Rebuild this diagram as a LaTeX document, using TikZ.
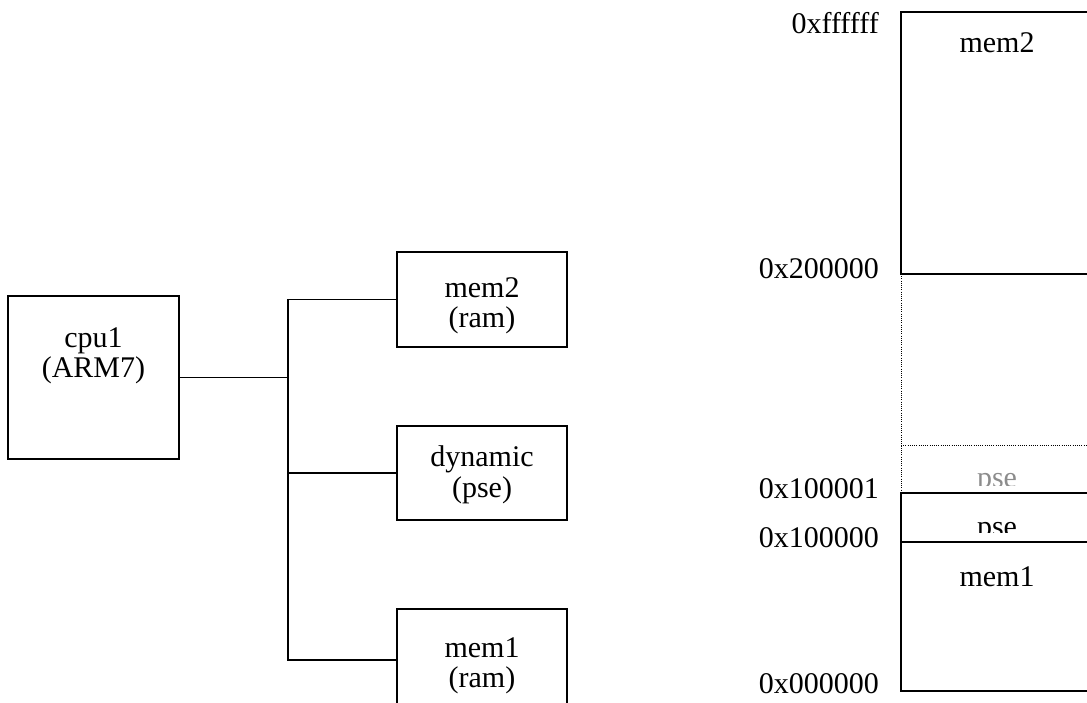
\documentclass[tikz,border=0pt]{standalone}
\usepackage{fontspec}
\setmainfont{Liberation Serif}
\begin{document}
\begin{tikzpicture}[x=1pt,y=-1pt,
  box/.style={draw, line width=1.9pt, rectangle, inner sep=0pt},
  txt/.style={inner sep=0pt, anchor=base, font=\fontsize{30}{31}\selectfont},
  wire/.style={line width=1.9pt},
  mapline/.style={line width=1.9pt},
  mapdot/.style={line width=0.9pt, dash pattern=on 1pt off 1.2pt}]
\useasboundingbox (0,0) rectangle (1087,702);
\fill[white] (0,0) rectangle (1087,702);
\clip (0,0) rectangle (1087,702);

% left: system structure
\node[box, minimum width=171pt, minimum height=163pt] (cpu1) at (93.5,377.5) {};
\node[txt] (cpu1a) at (93.5,347) {cpu1};
\node[txt] (cpu1b) at (93.5,377) {(ARM7)};
\node[box, minimum width=170pt, minimum height=95pt] (mem2) at (482,299.5) {};
\node[txt] (mem2a) at (482,297) {mem2};
\node[txt] (mem2b) at (482,327) {(ram)};
\node[box, minimum width=170pt, minimum height=94pt] (dyn) at (482,473) {};
\node[txt] (dyna) at (482,466) {dynamic};
\node[txt] (dynb) at (482,497) {(pse)};
\node[box, minimum width=170pt, minimum height=102pt] (mem1) at (482,660) {};
\node[txt] (mem1a) at (482,657) {mem1};
\node[txt] (mem1b) at (482,687) {(ram)};

\coordinate (busx) at (288,0);
\draw[wire] (cpu1.east) -- (cpu1.east -| busx);
\draw[wire] (mem2.west) -- (mem2.west -| busx) -- (mem1.west -| busx) -- (mem1.west);
\draw[wire] (dyn.west) -- (dyn.west -| busx);

% right: memory map
\draw[mapline] (1095,12) -- (901,12) -- (901,274) -- (1095,274);
\draw[mapdot] (901,274) -- (901,493);
\draw[mapdot] (901,445) -- (1095,445);
\draw[mapline] (1095,493) -- (901,493) -- (901,691) -- (1095,691);
\draw[mapline] (901,542) -- (1095,542);

\node[txt, anchor=base east] (a6) at (879,33) {0xffffff};
\node[txt, anchor=base east] (a2) at (879,278) {0x200000};
\node[txt, anchor=base east] (a11) at (879,498) {0x100001};
\node[txt, anchor=base east] (a10) at (879,547) {0x100000};
\node[txt, anchor=base east] (a0) at (879,693) {0x000000};

\node[txt] (r2) at (997,52) {mem2};
\begin{scope}
  \clip (903,447) rectangle (1095,485.5);
  \node[txt, text=black!45] (p2) at (997,487.5) {pse};
\end{scope}
\begin{scope}
  \clip (903,495) rectangle (1095,532.5);
  \node[txt] (p1) at (997,536) {pse};
\end{scope}
\node[txt] (r1) at (997,586) {mem1};
\end{tikzpicture}
\end{document}
